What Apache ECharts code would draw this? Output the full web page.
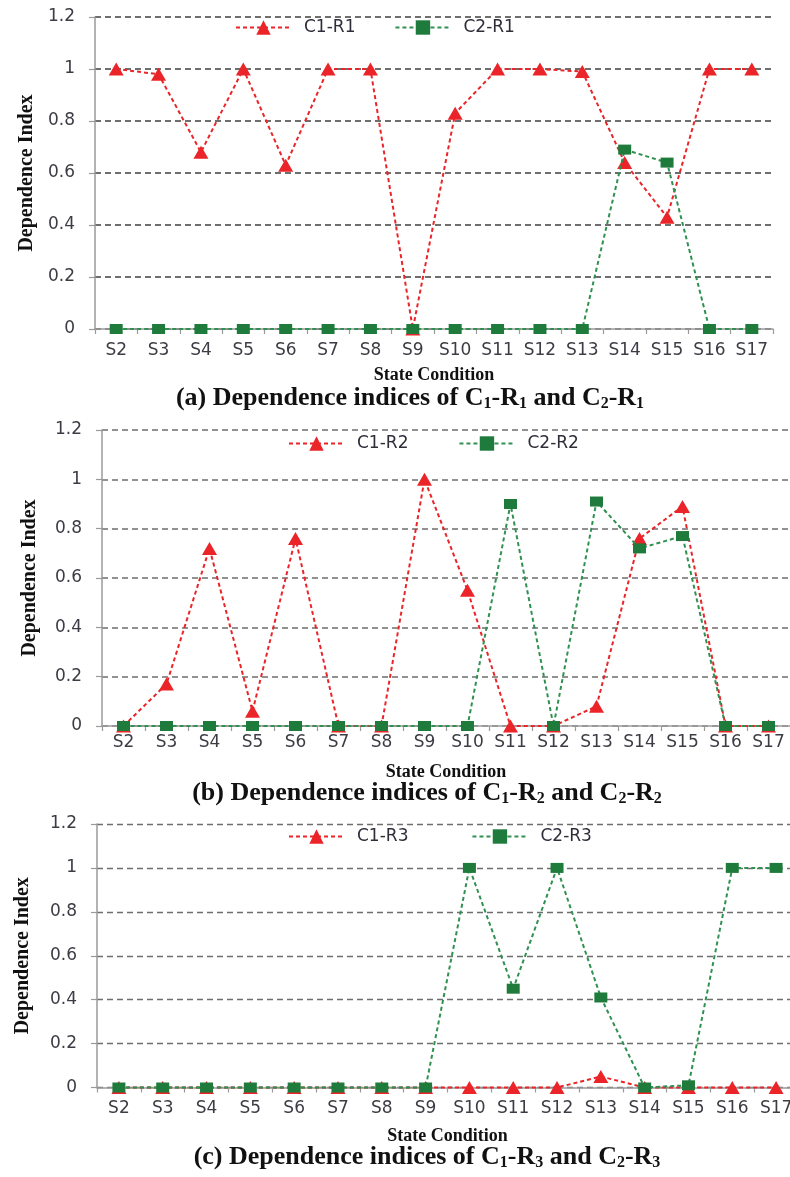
<!DOCTYPE html>
<html>
<head>
<meta charset="utf-8">
<script src="https://cdn.jsdelivr.net/npm/echarts@6/dist/echarts.min.js"></script>
<style>
  html, body { margin: 0; padding: 0; background: #fff; }
  #chart { width: 790px; height: 1177px; }
</style>
</head>
<body>
<div id="chart"></div>
<script>
// categories + values
const states = ['S2', 'S3', 'S4', 'S5', 'S6', 'S7', 'S8', 'S9', 'S10', 'S11', 'S12', 'S13', 'S14', 'S15', 'S16', 'S17'];

const c1r1 = [1, 0.98, 0.68, 1, 0.63, 1, 1, 0, 0.83, 1, 1, 0.99, 0.64, 0.43, 1, 1];
const c2r1 = [0, 0, 0, 0, 0, 0, 0, 0, 0, 0, 0, 0, 0.69, 0.64, 0, 0];

const c1r2 = [0, 0.17, 0.72, 0.06, 0.76, 0, 0, 1, 0.55, 0, 0, 0.08, 0.76, 0.89, 0, 0];
const c2r2 = [0, 0, 0, 0, 0, 0, 0, 0, 0, 0.9, 0, 0.91, 0.72, 0.77, 0, 0];

const c1r3 = [0, 0, 0, 0, 0, 0, 0, 0, 0, 0, 0, 0.05, 0, 0, 0, 0];
const c2r3 = [0, 0, 0, 0, 0, 0, 0, 0, 1, 0.45, 1, 0.41, 0, 0.01, 1, 1];

const yMin = 0, yMax = 1.2, yStep = 0.2;

const RED = '#ea2428';
const GREEN = '#1e7b3b';
const SANS = 'DejaVu Sans';
const SERIF = 'Liberation Serif';

// one panel = grid + axes + legend + 2 series
// panel (c) runs a few px past the right edge, like the source figure
const panels = [
  { grid: { left: 95, width: 678, top: 17, height: 312 }, names: ['C1-R1', 'C2-R1'], data: [c1r1, c2r1],
    legend: { left: 235, top: 19, itemGap: 39 }, splitW: 2, labelMargin: 13, xNameGap: 37, yNameGap: 55 },
  { grid: { left: 102, width: 688, top: 430, height: 296 }, names: ['C1-R2', 'C2-R2'], data: [c1r2, c2r2],
    legend: { left: 288, top: 435, itemGap: 50 }, splitW: 1.6, labelMargin: 8, xNameGap: 37, yNameGap: 62 },
  { grid: { left: 97, width: 701, top: 824, height: 263.5 }, names: ['C1-R3', 'C2-R3'], data: [c1r3, c2r3],
    legend: { left: 288, top: 828, itemGap: 63 }, splitW: 1.3, labelMargin: 13, xNameGap: 40, yNameGap: 64 }
];

const captions = [
  { x: 410, y: 398, tag: '(a)', r: '1' },
  { x: 427, y: 793, tag: '(b)', r: '2' },
  { x: 427, y: 1157, tag: '(c)', r: '3' }
];

let grids = [], xAxes = [], yAxes = [], legends = [], series = [], graphics = [];

panels.forEach(function (p, i) {
  grids.push(Object.assign({ outerBoundsMode: 'none', containLabel: false }, p.grid));
  xAxes.push({
    type: 'category',
    gridIndex: i,
    data: states,
    boundaryGap: true,
    name: 'State Condition',
    nameLocation: 'middle',
    nameGap: p.xNameGap,
    nameTextStyle: { fontFamily: SERIF, fontWeight: 'bold', fontSize: 18, color: '#111' },
    axisLine: { lineStyle: { color: '#9a9a9a', width: 1.5 } },
    axisTick: { show: true, length: 5, lineStyle: { color: '#9a9a9a', width: 1.2 } },
    axisLabel: { interval: 0, margin: p.labelMargin, fontFamily: SANS, fontSize: 17, color: '#3c3c44', hideOverlap: false },
    splitLine: { show: false }
  });
  yAxes.push({
    type: 'value',
    gridIndex: i,
    min: yMin,
    max: yMax,
    interval: yStep,
    name: 'Dependence Index',
    nameLocation: 'middle',
    nameRotate: 90,
    nameGap: p.yNameGap,
    nameTextStyle: { fontFamily: SERIF, fontWeight: 'bold', fontSize: 20, color: '#111' },
    axisLine: { show: true, lineStyle: { color: '#9a9a9a', width: 1.5 } },
    axisTick: { show: true, length: 6, lineStyle: { color: '#9a9a9a', width: 1.2 } },
    axisLabel: { margin: 20, fontFamily: SANS, fontSize: 17, color: '#3c3c44' },
    splitLine: { show: true, lineStyle: { color: '#6e6e6e', width: p.splitW, type: [6, 4] } }
  });
  legends.push({
    left: p.legend.left,
    top: p.legend.top,
    padding: 0,
    itemGap: p.legend.itemGap,
    itemWidth: 55,
    itemHeight: 18,
    data: p.names,
    textStyle: { fontFamily: SANS, fontSize: 17, color: '#2e2e3a', padding: [0, 0, 0, 8] }
  });
  // red triangles first, green squares drawn on top
  series.push({
    name: p.names[0],
    type: 'line',
    xAxisIndex: i,
    yAxisIndex: i,
    data: p.data[0],
    clip: false,
    symbol: 'triangle',
    symbolSize: [15, 13],
    itemStyle: { color: RED },
    lineStyle: { color: RED, width: 2, type: [4, 3] },
    z: 2
  });
  series.push({
    name: p.names[1],
    type: 'line',
    xAxisIndex: i,
    yAxisIndex: i,
    data: p.data[1],
    clip: false,
    symbol: 'rect',
    symbolSize: [13, 10],
    itemStyle: { color: GREEN },
    lineStyle: { color: '#2f9050', width: 2, type: [4, 3] },
    z: 3
  });
});

// captions with subscripts
captions.forEach(function (c) {
  graphics.push({
    type: 'text',
    x: c.x,
    y: c.y,
    style: {
      text: c.tag + ' Dependence indices of C{s|1}-R{s|' + c.r + '} and C{s|2}-R{s|' + c.r + '}',
      align: 'center',
      verticalAlign: 'middle',
      fontFamily: SERIF,
      fontWeight: 'bold',
      fontSize: 26,
      fill: '#111',
      rich: {
        s: { fontFamily: SERIF, fontWeight: 'bold', fontSize: 16, fill: '#111', padding: [12, 0, 0, 0] }
      }
    }
  });
});

const chart = echarts.init(document.getElementById('chart'), null, { renderer: 'canvas' });
chart.setOption({
  backgroundColor: '#ffffff',
  animation: false,
  grid: grids,
  xAxis: xAxes,
  yAxis: yAxes,
  legend: legends,
  series: series,
  graphic: graphics
});
</script>
</body>
</html>
